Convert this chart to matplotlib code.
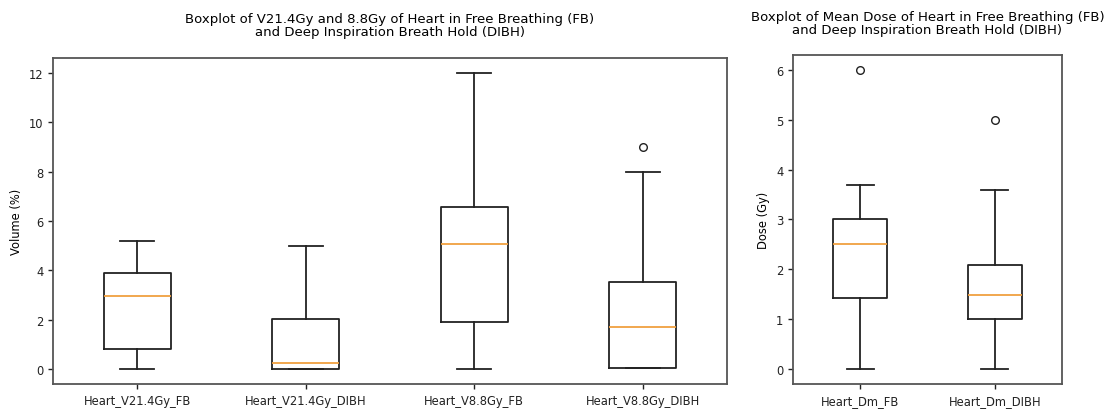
import matplotlib.pyplot as plt

# volume boxes (left panel)
vol_labels = ["Heart_V21.4Gy_FB", "Heart_V21.4Gy_DIBH", "Heart_V8.8Gy_FB", "Heart_V8.8Gy_DIBH"]
vol_whislo = [0.0, 0.0, 0.0, 0.04]
vol_q1 = [0.81, 0.0, 1.93, 0.04]
vol_med = [2.96, 0.27, 5.05, 1.72]
vol_q3 = [3.88, 2.04, 6.57, 3.51]
vol_whishi = [5.2, 5.0, 12.0, 8.0]
vol_fliers = [[], [], [], [9.0]]

# mean dose boxes (right panel)
dose_labels = ["Heart_Dm_FB", "Heart_Dm_DIBH"]
dose_whislo = [0.0, 0.0]
dose_q1 = [1.43, 1.0]
dose_med = [2.5, 1.49]
dose_q3 = [3.0, 2.08]
dose_whishi = [3.7, 3.6]
dose_fliers = [[6.0], [5.0]]


def make_stats(labels, lo, q1, med, q3, hi, fl):
    stats = []
    for i in range(len(labels)):
        stats.append({"label": labels[i], "whislo": lo[i], "q1": q1[i], "med": med[i],
                      "q3": q3[i], "whishi": hi[i], "fliers": fl[i]})
    return stats


fig = plt.figure(figsize=(11.05, 4.1), dpi=100)
ax1 = fig.add_axes([53 / 1105, 1 - 385 / 410, 674 / 1105, 326 / 410])
ax2 = fig.add_axes([793 / 1105, 1 - 385 / 410, 269 / 1105, 329 / 410])

props = dict(linewidth=1.3, color="#222222")
for ax, stats in [(ax1, make_stats(vol_labels, vol_whislo, vol_q1, vol_med, vol_q3, vol_whishi, vol_fliers)),
                  (ax2, make_stats(dose_labels, dose_whislo, dose_q1, dose_med, dose_q3, dose_whishi, dose_fliers))]:
    ax.bxp(stats, widths=0.4, boxprops=props, whiskerprops=props, capprops=props,
           medianprops=dict(color="#f0a040", linewidth=1.3),
           flierprops=dict(marker="o", markerfacecolor="none", markeredgecolor="#222222", markersize=5.5))
    ax.tick_params(labelsize=8.3, width=1, length=3.5, colors="#222222")
    for s in ax.spines.values():
        s.set_linewidth(1.3)
        s.set_color("#555555")

ax1.set_ylim(-0.6, 12.6)
ax1.set_yticks([0, 2, 4, 6, 8, 10, 12])
ax1.set_ylabel("Volume (%)", fontsize=8.3)
ax1.set_title("Boxplot of V21.4Gy and 8.8Gy of Heart in Free Breathing (FB)\nand Deep Inspiration Breath Hold (DIBH)",
              fontsize=9.5, pad=16.5, linespacing=1.0)

ax2.set_ylim(-0.3, 6.3)
ax2.set_ylabel("Dose (Gy)", fontsize=8.3)
ax2.set_title("Boxplot of Mean Dose of Heart in Free Breathing (FB)\nand Deep Inspiration Breath Hold (DIBH)",
              fontsize=9.5, pad=15.5, linespacing=1.0)

fig.savefig("out.png", dpi=100)
